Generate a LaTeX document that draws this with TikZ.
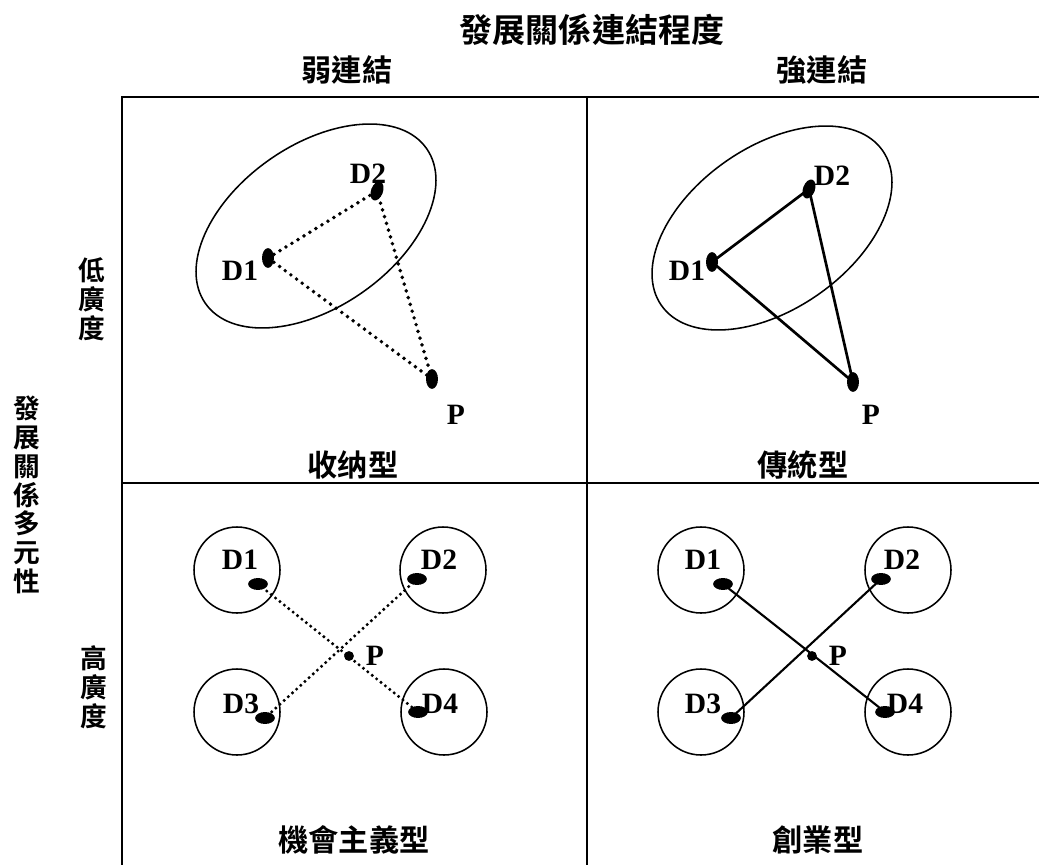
\documentclass[tikz,border=0pt]{standalone}
\usepackage{fontspec}
\setmainfont{Liberation Serif}
\newfontfamily\cjk{Noto Sans CJK TC}[BoldFont={Noto Sans CJK TC Bold}]
\usetikzlibrary{shapes.geometric, positioning}

\begin{document}
\begin{tikzpicture}[
    x=0.025cm, y=-0.025cm,
    frame/.style={line width=1.4pt},
    oval/.style={line width=1.1pt},
    ring/.style={line width=1.1pt},
    dotv/.style={ellipse, fill, inner sep=0pt, minimum width=8.5pt, minimum height=14pt},
    doth/.style={ellipse, fill, inner sep=0pt, minimum width=14pt, minimum height=8.5pt},
    hub/.style={circle, fill, inner sep=0pt, minimum size=7pt},
    lbl/.style={font=\bfseries\fontsize{21}{21}\selectfont, inner sep=0pt},
    zhtext/.style={font=\cjk\bfseries\fontsize{21.5}{22}\selectfont, inner sep=0pt, align=center},
    zhcol/.style={font=\cjk\bfseries\fontsize{19}{20.5}\selectfont, inner sep=0pt, align=center},
    weak/.style={line width=2.8pt, line cap=round, dash pattern=on 0pt off 5pt},
    weakx/.style={line width=2.4pt, line cap=round, dash pattern=on 0pt off 4pt},
    strong/.style={line width=1.9pt},
    strongx/.style={line width=1.5pt}
]
\useasboundingbox (0,0) rectangle (1039,865);

% Frame
\draw[frame] (1039,97) -- (122,97) -- (122,865);
\draw[frame] (587,97) -- (587,865);
\draw[frame] (122,483) -- (1039,483);

% Headings
\node[zhtext, font=\cjk\bfseries\fontsize{23.5}{24}\selectfont] (title) at (592,30) {發展關係連結程度};
\node[zhtext] (weakhd) at (347,70) {弱連結};
\node[zhtext] (stronghd) at (822,70) {強連結};
\node[zhcol] (axis) at (27,495) {發\\展\\關\\係\\多\\元\\性};
\node[zhcol] (lowbr) at (92,299) {低\\廣\\度};
\node[zhcol] (highbr) at (94,687) {高\\廣\\度};

% Quadrant names
\node[zhtext] (absorb) at (353,465) {收纳型};
\node[zhtext] (tradit) at (803,465) {傳統型};
\node[zhtext] (oppor) at (354,840) {機會主義型};
\node[zhtext] (entre) at (818,840) {創業型};

% Top left: weak, low breadth
\draw[oval, rotate around={35:(316,226)}] (316,226) ellipse [x radius=135, y radius=81];
\node[dotv] (wD1) at (268,258) {};
\node[dotv, rotate=-20] (wD2) at (377,191) {};
\node[dotv] (wP) at (432,379) {};
\draw[weak] (wD1.center) -- (wD2.center) -- (wP.center) -- (wD1.center);
\node[lbl] at (240,271) {D1};
\node[lbl] at (368,174) {D2};
\node[lbl] at (456,415) {P};

% Top right: strong, low breadth
\draw[oval, rotate around={35:(772,228)}] (772,228) ellipse [x radius=135, y radius=81];
\node[dotv] (sD1) at (712,262) {};
\node[dotv, rotate=-20] (sD2) at (809,189) {};
\node[dotv] (sP) at (853,382) {};
\draw[strong] (sD1.center) -- (sD2.center) -- (sP.center) -- cycle;
\node[lbl] at (687,271) {D1};
\node[lbl] at (832,176) {D2};
\node[lbl] at (871,415) {P};

% Bottom left: weak, high breadth
\foreach \cx/\cy in {237/570, 443/570, 237/712, 444/712}
    \draw[ring] (\cx,\cy) circle [radius=43];
\node[doth] (oD1) at (258,584) {};
\node[doth] (oD2) at (417,579) {};
\node[doth] (oD3) at (265,718) {};
\node[doth] (oD4) at (418,712) {};
\node[hub] (oP) at (349,656) {};
\draw[weakx] (oD1.center) -- (oD4.center);
\draw[weakx] (oD2.center) -- (oD3.center);
\node[lbl] at (240,560) {D1};
\node[lbl] at (439,560) {D2};
\node[lbl] at (241,704) {D3};
\node[lbl] at (440,704) {D4};
\node[lbl] at (375,656) {P};

% Bottom right: strong, high breadth
\foreach \cx/\cy in {701/570, 908/570, 701/712, 908/712}
    \draw[ring] (\cx,\cy) circle [radius=43];
\node[doth] (eD1) at (723,584) {};
\node[doth] (eD2) at (881,579) {};
\node[doth] (eD3) at (731,718) {};
\node[doth] (eD4) at (885,712) {};
\node[hub] (eP) at (812,656) {};
\draw[strongx] (eD1.center) -- (eD4.center);
\draw[strongx] (eD2.center) -- (eD3.center);
\node[lbl] at (703,560) {D1};
\node[lbl] at (902,560) {D2};
\node[lbl] at (703,704) {D3};
\node[lbl] at (905,704) {D4};
\node[lbl] at (838,656) {P};
\end{tikzpicture}
\end{document}
